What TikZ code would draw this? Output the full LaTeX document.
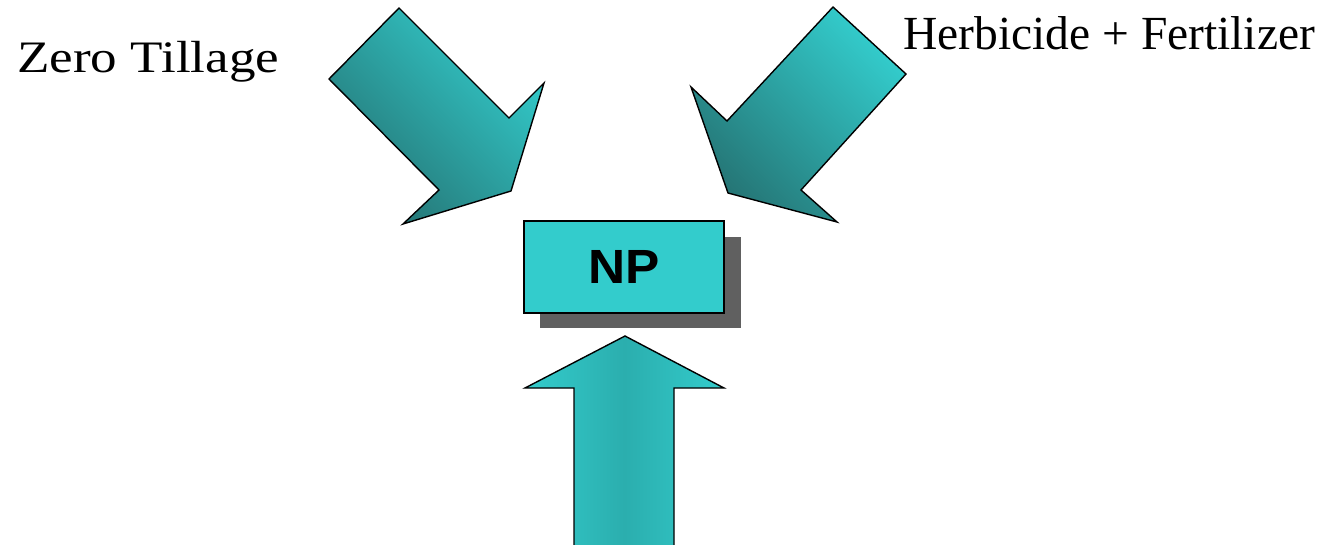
\documentclass[tikz,border=0pt]{standalone}
\usepackage{fontspec}
\setmainfont{Liberation Serif}
\newfontfamily\boxfont{Liberation Sans}
\definecolor{teallight}{HTML}{33CCCC}
\definecolor{tealmid}{HTML}{2BAEAE}
\definecolor{tealdark}{HTML}{257474}
\definecolor{shadowgray}{HTML}{606060}
\begin{document}
\begin{tikzpicture}[x=1pt,y=-1pt,
  bigarrow/.style={draw=black,line width=1.4pt,line join=miter},
  diagshade/.style={top color=teallight,bottom color=tealdark,shading angle=-45},
  label/.style={inner sep=0pt,anchor=base west,text=black},
  npbox/.style={draw=black,line width=1.4pt,fill=teallight,minimum width=200pt,
    minimum height=92pt,inner sep=0pt,font=\boxfont\bfseries\fontsize{48}{48}\selectfont}]
\useasboundingbox (0,0) rectangle (1336,544);
\fill[white] (0,0) rectangle (1336,544);

% arrow from the upper left
\path[bigarrow,diagshade]
  (399,8) -- (509,118) -- (544,83) -- (511,191) -- (403,224) -- (439,190) -- (329,79) -- cycle;

% arrow from the upper right
\path[bigarrow,diagshade]
  (833,7) -- (906,74) -- (801,190) -- (837,222) -- (728,193) -- (691,87) -- (727,121) -- cycle;

% box with its drop shadow
\fill[shadowgray] (540,237) rectangle (741,328);
\node[npbox] (np) at (624,267) {\scalebox{1.07}[1]{NP}};

% arrow from below
\path[bigarrow,left color=teallight,right color=teallight,middle color=tealmid]
  (625,336) -- (724,388) -- (674,388) -- (674,550) -- (574,550) -- (574,388) -- (525,388) -- cycle;

% labels
\node[label,font=\fontsize{45}{45}\selectfont] (zt) at (17,72) {\scalebox{1.18}[1]{Zero Tillage}};
\node[label,font=\fontsize{47.5}{47.5}\selectfont] (hf) at (903,49) {Herbicide + Fertilizer};
\end{tikzpicture}
\end{document}
